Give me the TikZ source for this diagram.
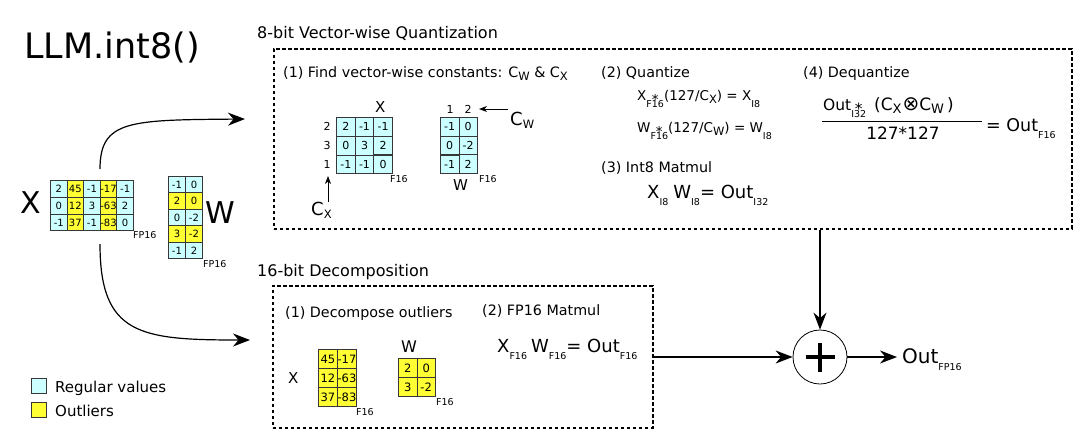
\documentclass[tikz,border=0pt]{standalone}
\usepackage{fontspec}
\setmainfont{DejaVu Sans}
\usetikzlibrary{matrix,arrows.meta}
\definecolor{regc}{RGB}{204,255,255}
\definecolor{outc}{RGB}{255,255,51}
\definecolor{celld}{RGB}{55,55,55}
\newcommand\fs[1]{\fontsize{#1}{#1}\selectfont}
\newcommand\lsub[1]{\raisebox{-7pt}{\fs{9.5}#1}}
\newlength\sswd
\newcommand\subsup[2]{\settowidth\sswd{\lsub{#1}}\rlap{\lsub{#1}}\makebox[\sswd]{\raisebox{-4pt}{#2}}}
\newcommand\csub[1]{\raisebox{-3pt}{\fs{11.5}#1}}
\newcommand\csubb[1]{\raisebox{-3.5pt}{\fs{13}#1}}
\begin{document}
\begin{tikzpicture}[x=1pt,y=-1pt,
  every node/.style={inner sep=0pt},
  txt/.style={anchor=base west},
  cellbase/.style={draw=celld, line width=0.9pt, inner sep=0pt, fill=regc},
  mat/.style={matrix of nodes, anchor=north west, inner sep=0pt, outer sep=0pt,
     column sep=-0.9pt, row sep=-0.9pt},
  dbox/.style={draw, line width=1.5pt, dash pattern=on 3.5pt off 2.5pt, anchor=north west},
  bigarrow/.style={line width=1.2pt, -{Stealth[length=17pt,width=13pt,inset=5.5pt]}},
  smallarrow/.style={line width=0.9pt, -{Stealth[length=8pt,width=6pt,inset=2.5pt]}},
  legsq/.style={draw=celld, line width=0.9pt, minimum size=15pt, anchor=north west}]
\useasboundingbox (0,0) rectangle (1080,437);

% title
\node[txt] (title) at (24,58) {\fs{35}LLM.int8()};

% left input matrices
\node[txt] (bigX) at (20,213) {\fs{30}X};
\matrix (xin) [mat, at={(50,180)}, nodes={cellbase, minimum width=16.6pt, minimum height=16.7pt, font=\fs{10}},
   column 2/.style={nodes={fill=outc}}, column 4/.style={nodes={fill=outc}}]
{ 2 & 45 & -1 & -17 & -1\\ 0 & 12 & 3 & -63 & 2\\ -1 & 37 & -1 & -83 & 0\\};
\node[txt] (xinlab) at (133,238) {\fs{9.5}FP16};
\matrix (win) [mat, at={(168,176)}, nodes={cellbase, minimum width=17pt, minimum height=16.4pt, font=\fs{10}},
   row 2/.style={nodes={fill=outc}}, row 4/.style={nodes={fill=outc}}]
{ -1 & 0\\ 2 & 0\\ 0 & -2\\ 3 & -2\\ -1 & 2\\};
\node[txt] (bigW) at (205,223) {\fs{30}W};
\node[txt] (winlab) at (203,267) {\fs{9.5}FP16};

% split arrows
\coordinate (splitA) at (100,169);
\coordinate (splitB) at (100,244);
\coordinate (qin) at (245,119);
\coordinate (din) at (250,340);
\draw[bigarrow] (splitA) .. controls (100,120) and (130,120) .. (qin);
\draw[bigarrow] (splitB) .. controls (100,335) and (140,340) .. (din);

% 8-bit box
\node[txt] (qtitle) at (257,38) {\fs{16}8-bit Vector-wise Quantization};
\node[dbox, minimum width=798pt, minimum height=180pt] (qbox) at (273,48) {};

\node[txt] (step1) at (283,77) {\fs{14.3}(1) Find vector-wise constants: C\csub{W} \& C\csub{X}};
\node[txt] (sxlab) at (375,112) {\fs{15}X};
\matrix (sx) [mat, at={(336,117)}, nodes={cellbase, minimum width=18.7pt, minimum height=18.7pt, font=\fs{11}}]
{ 2 & -1 & -1\\ 0 & 3 & 2\\ -1 & -1 & 0\\};
\node (rl1) at (327,126) {\fs{11}2};
\node (rl2) at (327,145) {\fs{11}3};
\node (rl3) at (327,164) {\fs{11}1};
\node[txt] (sxf) at (390,182) {\fs{9.5}F16};
\node[txt] (cx) at (311,215) {\fs{18}C\csub{X}};
\coordinate (cxs) at (328,202);
\coordinate (cxt) at (328,176);
\draw[smallarrow] (cxs) -- (cxt);

\matrix (sw) [mat, at={(440,117)}, nodes={cellbase, minimum width=18.5pt, minimum height=18.7pt, font=\fs{11}}]
{ -1 & 0\\ 0 & -2\\ -1 & 2\\};
\node (cl1) at (450,109) {\fs{11}1};
\node (cl2) at (468,109) {\fs{11}2};
\node[txt] (swlab) at (453,190) {\fs{15}W};
\node[txt] (swf) at (479,182) {\fs{9.5}F16};
\node[txt] (cw) at (510,125) {\fs{18}C\csub{W}};
\coordinate (cws) at (508,109);
\coordinate (cwt) at (479,109);
\draw[smallarrow] (cws) -- (cwt);

\node[txt] (step2) at (601,77) {\fs{14.3}(2) Quantize};
\node[txt] (qx) at (637,100) {\fs{13.5}X\subsup{F16}{*}(127/C\csub{X}) = X\lsub{I8}};
\node[txt] (qw) at (637,132) {\fs{13.5}W\subsup{F16}{*}(127/C\csub{W}) = W\lsub{I8}};
\node[txt] (step3) at (601,172) {\fs{14.3}(3) Int8 Matmul};
\node[txt] (mm8) at (647,198) {\fs{18}X\lsub{I8}\hspace{5pt}W\lsub{I8}= Out\lsub{I32}};

\node[txt] (step4) at (803,77) {\fs{14.3}(4) Dequantize};
\node[txt] (num) at (823,110) {\fs{15.5}Out\subsup{I32}{*}\hspace{8pt}{\fs{17}(C\csubb{X}\hspace{1pt}{\fs{20}⊗}C\csubb{W}\hspace{3pt})}};
\coordinate (barL) at (822,121);
\coordinate (barR) at (982,121);
\draw[line width=0.9pt] (barL) -- (barR);
\node[anchor=base] (den) at (903,139) {\fs{17}127*127};
\node[txt] (deq) at (986,131) {\fs{17.5}= Out\lsub{F16}};

% 16-bit box
\node[txt] (dtitle) at (257,276) {\fs{16}16-bit Decomposition};
\node[dbox, minimum width=380pt, minimum height=142pt] (dbx) at (272,285) {};
\node[txt] (dstep1) at (285,317) {\fs{14.3}(1) Decompose outliers};
\node[txt] (dstep2) at (482,315) {\fs{14.3}(2) FP16 Matmul};
\node[txt] (dxlab) at (288,383) {\fs{15}X};
\matrix (dx) [mat, at={(318,349)}, nodes={cellbase, fill=outc, minimum width=19pt, minimum height=19pt, font=\fs{11.5}}]
{ 45 & -17\\ 12 & -63\\ 37 & -83\\};
\node[txt] (dxf) at (356,415) {\fs{9.5}F16};
\node[txt] (dwlab) at (401,352) {\fs{16}W};
\matrix (dw) [mat, at={(398,358)}, nodes={cellbase, fill=outc, minimum width=18.5pt, minimum height=19pt, font=\fs{11.5}}]
{ 2 & 0\\ 3 & -2\\};
\node[txt] (dwf) at (436,405) {\fs{9.5}F16};
\node[txt] (mm16) at (497,352) {\fs{18}X\lsub{F16}\hspace{4pt}W\lsub{F16}= Out\lsub{F16}};

% sum
\node[circle, draw, line width=0.8pt, minimum size=54pt] (plus) at (820,357) {};
\draw[line width=3.2pt] ([xshift=-14.5pt]plus.center) -- ([xshift=14.5pt]plus.center);
\draw[line width=3.2pt] ([yshift=-14.5pt]plus.center) -- ([yshift=14.5pt]plus.center);
\draw[bigarrow] (plus |- qbox.south) -- (plus.north);
\draw[bigarrow] (dbx.east |- plus) -- (plus.west);
\node[txt] (out) at (902,363) {\fs{20}Out\lsub{FP16}};
\draw[bigarrow] (plus.east) -- ([xshift=-5pt]plus.east -| out.west);

% legend
\node[legsq, fill=regc] (lr) at (31,378) {};
\node[txt] (lrt) at (55,392) {\fs{15}Regular values};
\node[legsq, fill=outc] (lo) at (31,402) {};
\node[txt] (lot) at (55,416) {\fs{15}Outliers};
\end{tikzpicture}
\end{document}
